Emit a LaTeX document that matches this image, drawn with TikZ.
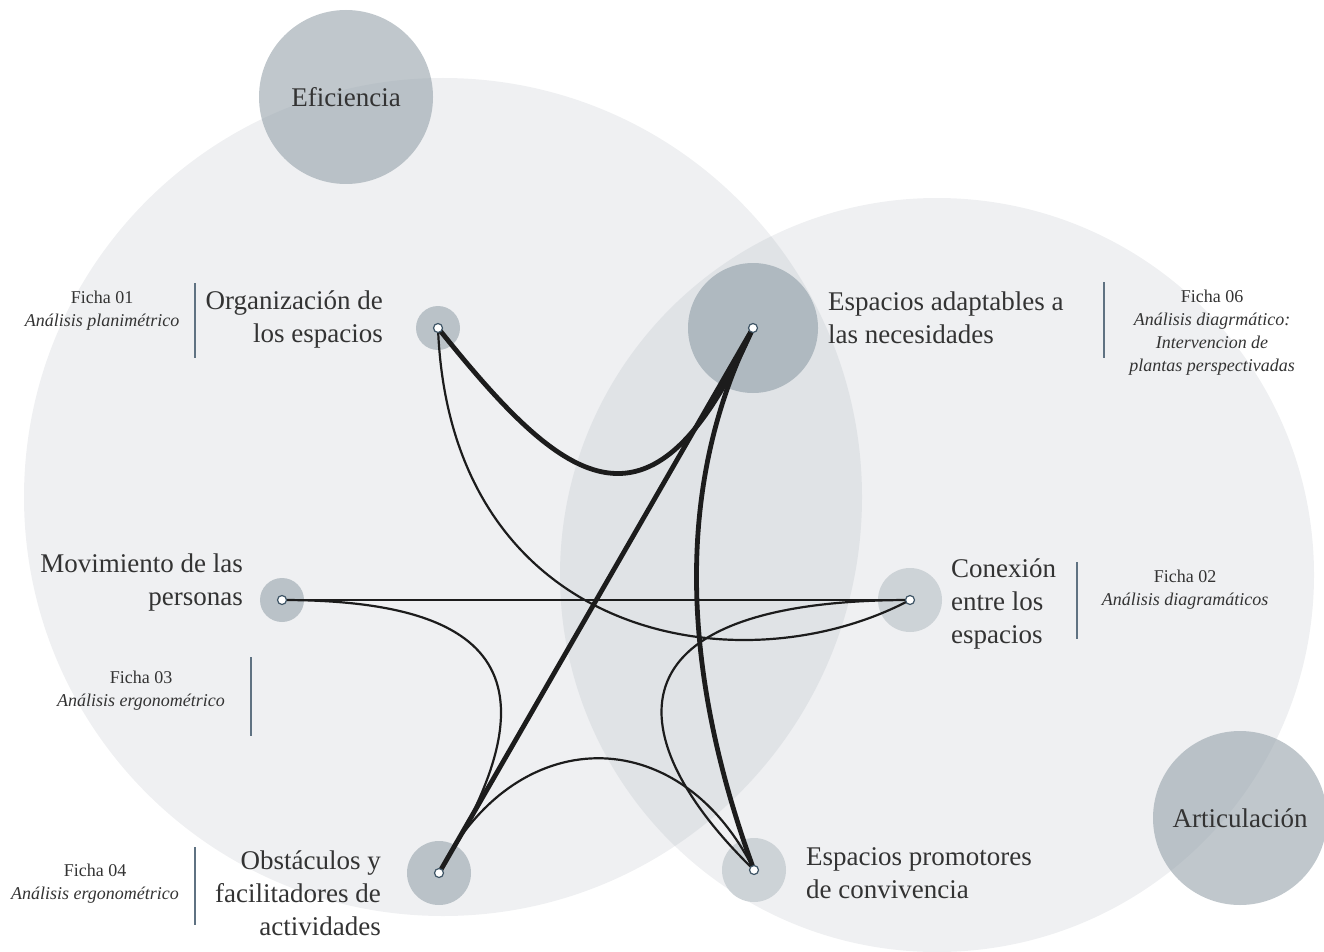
\documentclass[tikz,border=0pt]{standalone}
\usepackage{fontspec}
\setmainfont{Liberation Serif}
\definecolor{bgc}{HTML}{EFF0F2}
\definecolor{ovc}{HTML}{E0E3E6}
\definecolor{bigc}{HTML}{99A5AD}
\definecolor{nodedark}{HTML}{BAC2C8}
\definecolor{nodemid}{HTML}{AFB9C0}
\definecolor{nodelight}{HTML}{CDD3D7}
\definecolor{edgec}{HTML}{1C1C1C}
\definecolor{barc}{HTML}{5F7282}
\definecolor{txt}{HTML}{333333}
\definecolor{dotc}{HTML}{3F5566}
\tikzset{
 hub/.style={circle, inner sep=0pt, draw=none},
 dotw/.style={circle, inner sep=0pt, minimum size=9pt, fill=white, draw=dotc, line width=1.2pt},
 thickedge/.style={draw=edgec, line width=4.8pt, line cap=round},
 thinedge/.style={draw=edgec, line width=2.2pt, line cap=round},
 lbl/.style={text=txt, font=\fontsize{27}{33}\selectfont, inner sep=0pt},
 ficha/.style={text=txt, font=\fontsize{18}{23}\selectfont, inner sep=0pt, align=center},
 vbar/.style={draw=barc, line width=2.5pt},
 theme/.style={circle, inner sep=0pt, minimum size=174pt, fill=bigc, fill opacity=0.62, text opacity=1, text=txt, font=\fontsize{27}{33}\selectfont},
}
\begin{document}
\begin{tikzpicture}[x=1pt,y=-1pt]
\useasboundingbox (0,0) rectangle (1324,952);
\clip (0,0) rectangle (1324,952);
% big background circles
\node[hub, minimum size=838pt, fill=bgc] (bigL) at (443,497) {};
\node[hub, minimum size=754pt, fill=bgc] (bigR) at (937,575) {};
\begin{scope}
 \clip (443,497) circle[radius=419pt];
 \fill[ovc] (937,575) circle[radius=377pt];
\end{scope}
% theme circles
\node[theme] (efi) at (346,97) {Eficiencia};
\node[theme] (art) at (1240,818) {Articulación};
% hub circles
\node[hub, minimum size=44pt, fill=nodedark] (nO) at (438,328) {};
\node[hub, minimum size=130pt, fill=nodemid] (nE) at (753,328) {};
\node[hub, minimum size=44pt, fill=nodedark] (nM) at (282,600) {};
\node[hub, minimum size=64pt, fill=nodelight] (nC) at (910,600) {};
\node[hub, minimum size=64pt, fill=nodedark] (nB) at (439,873) {};
\node[hub, minimum size=64pt, fill=nodelight] (nP) at (754,870) {};
% connectors
\draw[thinedge] (nM.center) -- (nC.center);
\draw[thinedge] (nO.center) .. controls (450,640) and (740,690) .. (nC.center);
\draw[thinedge] (nM.center) .. controls (502,600) and (560,680) .. (nB.center);
\draw[thinedge] (nC.center) .. controls (600,600) and (620,740) .. (nP.center);
\draw[thinedge] (nB.center) .. controls (514,722) and (679,719) .. (nP.center);
\draw[thickedge] (nO.center) .. controls (560,480) and (650,560) .. (nE.center);
\draw[thickedge] (nE.center) -- (nB.center);
\draw[thickedge] (nE.center) .. controls (666,502) and (690,696) .. (nP.center);
% white dots
\foreach \n in {nO,nE,nM,nC,nB,nP} \node[dotw] (d\n) at (\n.center) {};
% labels
\node[lbl, align=right, anchor=east] (tO) at (383,319) {Organización de\\los espacios};
\node[lbl, align=left, anchor=west] (tE) at (828,318) {Espacios adaptables a\\las necesidades};
\node[lbl, align=right, anchor=east] (tM) at (243,583) {Movimiento de las\\personas};
\node[lbl, align=left, anchor=west] (tC) at (951,604) {Conexión\\entre los\\espacios};
\node[lbl, align=right, anchor=east] (tB) at (381,893) {Obstáculos y\\facilitadores de\\actividades};
\node[lbl, align=left, anchor=west] (tP) at (806,873) {Espacios promotores\\de convivencia};
% ficha labels
\node[ficha] (f1) at (102,311) {Ficha 01\\\textit{Análisis planimétrico}};
\node[ficha] (f6) at (1212,333) {Ficha 06\\\textit{Análisis diagrmático:}\\\textit{Intervencion de}\\\textit{plantas perspectivadas}};
\node[ficha] (f3) at (141,691) {Ficha 03\\\textit{Análisis ergonométrico}};
\node[ficha] (f2) at (1185,590) {Ficha 02\\\textit{Análisis diagramáticos}};
\node[ficha] (f4) at (95,884) {Ficha 04\\\textit{Análisis ergonométrico}};
% bars
\draw[vbar] (195,283) -- (195,358);
\draw[vbar] (1104,282) -- (1104,358);
\draw[vbar] (251,657) -- (251,736);
\draw[vbar] (1077,562) -- (1077,639);
\draw[vbar] (195,847) -- (195,925);
\end{tikzpicture}
\end{document}
